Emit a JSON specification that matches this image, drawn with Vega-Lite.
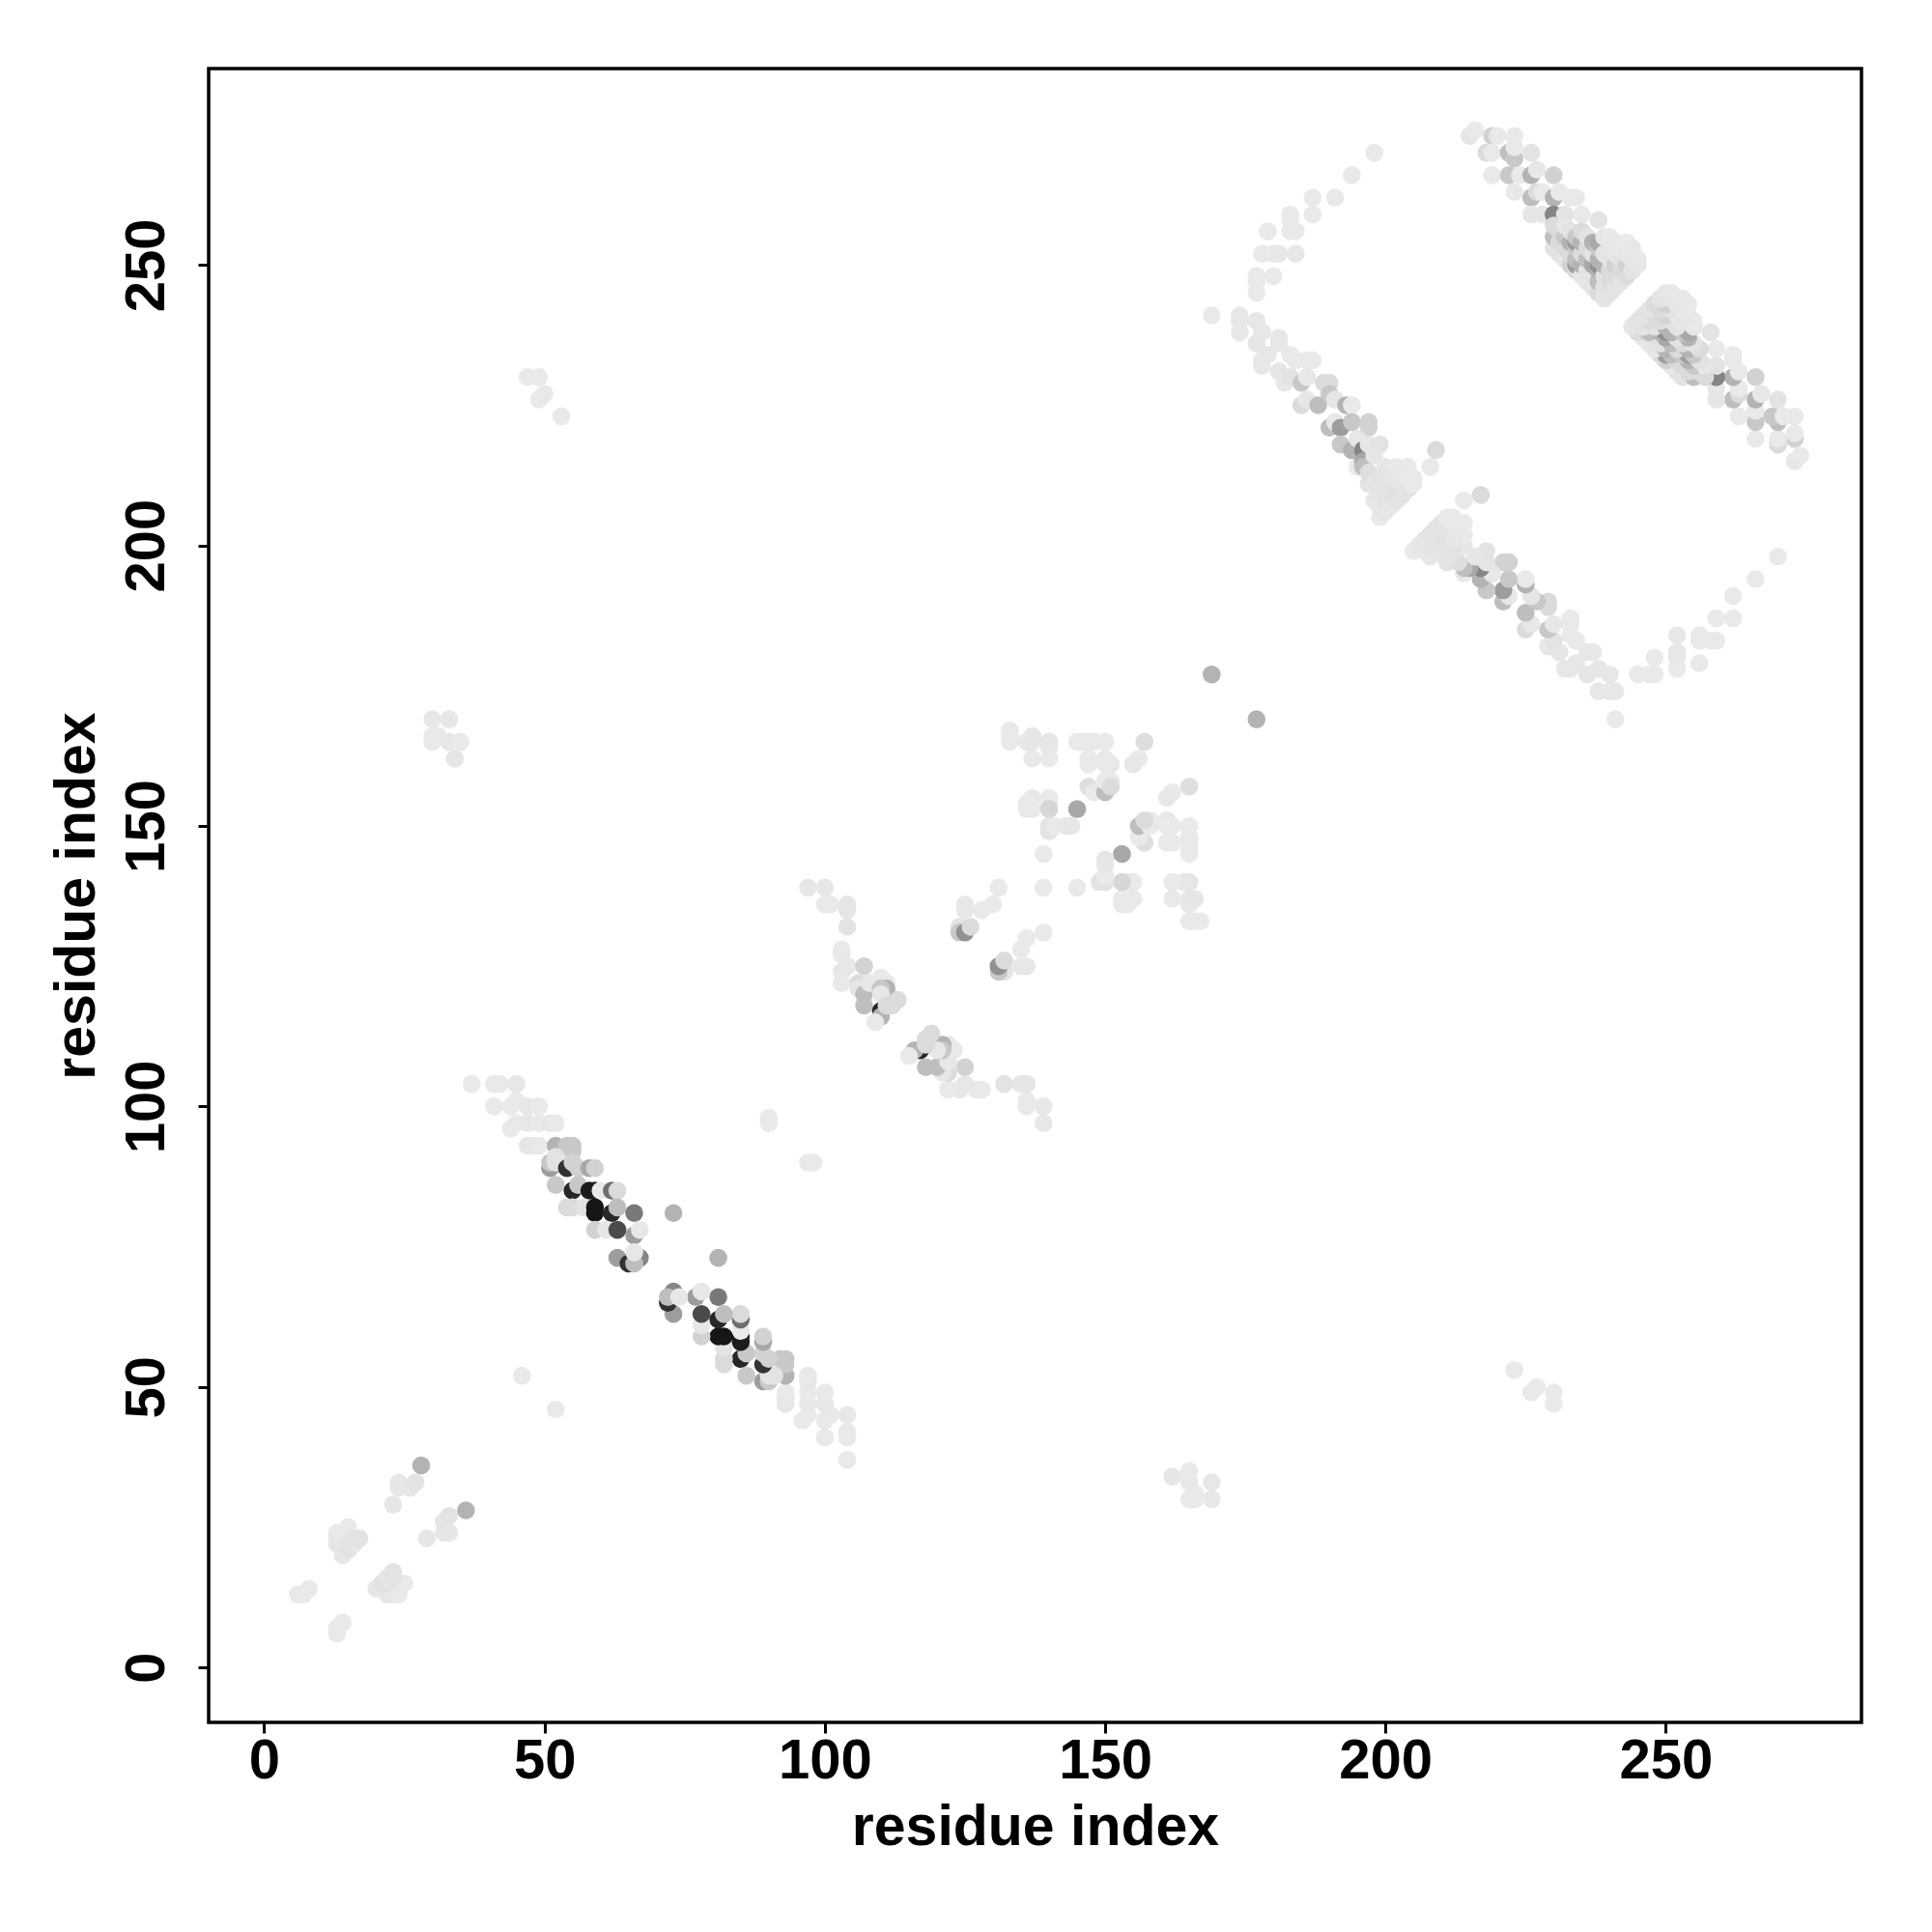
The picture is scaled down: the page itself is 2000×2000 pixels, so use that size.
{"$schema":"https://vega.github.io/schema/vega-lite/v6.json","autosize":{"type":"none"},"padding":{"left":216,"top":71,"right":73,"bottom":216},"width":1711,"height":1712,"background":"white","config":{"view":{"stroke":"black","strokeWidth":3.5},"axis":{"grid":false,"domain":false,"tickColor":"black","tickWidth":3,"tickSize":11,"labelFont":"Liberation Sans","labelFontWeight":"bold","labelFontSize":58,"labelColor":"black","titleFont":"Liberation Sans","titleFontWeight":"bold","titleFontSize":59,"titleColor":"black","labelOverlap":false,"labelFlush":false}},"data":{"values":[
{"x":6,"y":13,"v":0},{"x":7,"y":13,"v":0},{"x":8,"y":14,"v":0},{"x":13,"y":23,"v":0},{"x":13,"y":22,"v":0.03},{"x":13,"y":24,"v":0},{"x":14,"y":20,"v":0.02},{"x":14,"y":21,"v":0.03},{"x":14,"y":23,"v":0},{"x":15,"y":21,"v":0.05},{"x":15,"y":22,"v":0.05},{"x":15,"y":25,"v":0},{"x":16,"y":22,"v":0.03},{"x":16,"y":23,"v":0.05},{"x":17,"y":23,"v":0.05},{"x":28,"y":36,"v":0.3},{"x":23,"y":29,"v":0.03},{"x":24,"y":32,"v":0.02},{"x":24,"y":33,"v":0.03},{"x":26,"y":32,"v":0.03},{"x":27,"y":33,"v":0.05},
{"x":13,"y":6,"v":0},{"x":13,"y":7,"v":0},{"x":14,"y":8,"v":0},{"x":23,"y":13,"v":0},{"x":22,"y":13,"v":0.03},{"x":24,"y":13,"v":0},{"x":20,"y":14,"v":0.02},{"x":21,"y":14,"v":0.03},{"x":23,"y":14,"v":0},{"x":21,"y":15,"v":0.05},{"x":22,"y":15,"v":0.05},{"x":25,"y":15,"v":0},{"x":22,"y":16,"v":0.03},{"x":23,"y":16,"v":0.05},{"x":23,"y":17,"v":0.05},{"x":36,"y":28,"v":0.3},{"x":29,"y":23,"v":0.03},{"x":32,"y":24,"v":0.02},{"x":33,"y":24,"v":0.03},{"x":32,"y":26,"v":0.03},{"x":33,"y":27,"v":0.05},
{"x":47,"y":230,"v":0},{"x":49,"y":230,"v":0},{"x":49,"y":226,"v":0},{"x":50,"y":227,"v":0},{"x":53,"y":223,"v":0},{"x":46,"y":52,"v":0},{"x":230,"y":47,"v":0},{"x":230,"y":49,"v":0},{"x":226,"y":49,"v":0},{"x":227,"y":50,"v":0},{"x":223,"y":53,"v":0},{"x":52,"y":46,"v":0},
{"x":30,"y":169,"v":0.02},{"x":33,"y":169,"v":0.02},{"x":30,"y":165,"v":0},{"x":31,"y":166,"v":0},{"x":33,"y":165,"v":0.02},{"x":35,"y":165,"v":0},{"x":34,"y":162,"v":0.03},{"x":30,"y":166,"v":0},{"x":169,"y":30,"v":0.02},{"x":169,"y":33,"v":0.02},{"x":165,"y":30,"v":0},{"x":166,"y":31,"v":0},{"x":165,"y":33,"v":0.02},{"x":165,"y":35,"v":0},{"x":162,"y":34,"v":0.03},{"x":166,"y":30,"v":0},
{"x":37,"y":104,"v":0},{"x":41,"y":104,"v":0},{"x":42,"y":104,"v":0},{"x":45,"y":104,"v":0.02},{"x":41,"y":100,"v":0},{"x":44,"y":100,"v":0},{"x":45,"y":101,"v":0},{"x":47,"y":100,"v":0.02},{"x":49,"y":100,"v":0},{"x":44,"y":96,"v":0},{"x":45,"y":97,"v":0},{"x":47,"y":97,"v":0.02},{"x":49,"y":97,"v":0},{"x":51,"y":97,"v":0.02},{"x":52,"y":97,"v":0},{"x":47,"y":93,"v":0.03},{"x":48,"y":93,"v":0.02},{"x":49,"y":93,"v":0},{"x":52,"y":93,"v":0.3},{"x":54,"y":93,"v":0.2},{"x":55,"y":93,"v":0.2},{"x":51,"y":89,"v":0.4},{"x":51,"y":90,"v":0.2},{"x":52,"y":90,"v":0.05},{"x":52,"y":91,"v":0.05},{"x":55,"y":92,"v":0.2},{"x":54,"y":89,"v":0.85},{"x":55,"y":90,"v":0.15},{"x":56,"y":89,"v":0.15},{"x":58,"y":89,"v":0.35},{"x":59,"y":89,"v":0.15},{"x":52,"y":86,"v":0.2},{"x":55,"y":85,"v":0.9},{"x":56,"y":86,"v":0.2},{"x":58,"y":85,"v":0.95},{"x":59,"y":85,"v":0.95},{"x":60,"y":85,"v":0},{"x":62,"y":85,"v":0.6},{"x":63,"y":85,"v":0.1},{"x":54,"y":82,"v":0.1},{"x":55,"y":82,"v":0.1},{"x":57,"y":82,"v":0.05},{"x":59,"y":81,"v":0.98},{"x":59,"y":82,"v":0.98},{"x":62,"y":81,"v":0.9},{"x":63,"y":82,"v":0.25},{"x":66,"y":81,"v":0.55},{"x":59,"y":78,"v":0.15},{"x":61,"y":78,"v":0.03},{"x":63,"y":78,"v":0.75},{"x":66,"y":77,"v":0.4},{"x":67,"y":78,"v":0.02},{"x":63,"y":73,"v":0.4},{"x":65,"y":72,"v":0.85},{"x":67,"y":73,"v":0.5},{"x":66,"y":72,"v":0.25},{"x":66,"y":74,"v":0.02},{"x":73,"y":81,"v":0.3},{"x":90,"y":97,"v":0},{"x":90,"y":98,"v":0},
{"x":104,"y":37,"v":0},{"x":104,"y":41,"v":0},{"x":104,"y":42,"v":0},{"x":104,"y":45,"v":0.02},{"x":100,"y":41,"v":0},{"x":100,"y":44,"v":0},{"x":101,"y":45,"v":0},{"x":100,"y":47,"v":0.02},{"x":100,"y":49,"v":0},{"x":96,"y":44,"v":0},{"x":97,"y":45,"v":0},{"x":97,"y":47,"v":0.02},{"x":97,"y":49,"v":0},{"x":97,"y":51,"v":0.02},{"x":97,"y":52,"v":0},{"x":93,"y":47,"v":0.03},{"x":93,"y":48,"v":0.02},{"x":93,"y":49,"v":0},{"x":93,"y":52,"v":0.3},{"x":93,"y":54,"v":0.2},{"x":93,"y":55,"v":0.2},{"x":89,"y":51,"v":0.4},{"x":90,"y":51,"v":0.2},{"x":90,"y":52,"v":0.05},{"x":91,"y":52,"v":0.05},{"x":92,"y":55,"v":0.2},{"x":89,"y":54,"v":0.85},{"x":90,"y":55,"v":0.15},{"x":89,"y":56,"v":0.15},{"x":89,"y":58,"v":0.35},{"x":89,"y":59,"v":0.15},{"x":86,"y":52,"v":0.2},{"x":85,"y":55,"v":0.9},{"x":86,"y":56,"v":0.2},{"x":85,"y":58,"v":0.95},{"x":85,"y":59,"v":0.95},{"x":85,"y":60,"v":0},{"x":85,"y":62,"v":0.6},{"x":85,"y":63,"v":0.1},{"x":82,"y":54,"v":0.1},{"x":82,"y":55,"v":0.1},{"x":82,"y":57,"v":0.05},{"x":81,"y":59,"v":0.98},{"x":82,"y":59,"v":0.98},{"x":81,"y":62,"v":0.9},{"x":82,"y":63,"v":0.25},{"x":81,"y":66,"v":0.55},{"x":78,"y":59,"v":0.15},{"x":78,"y":61,"v":0.03},{"x":78,"y":63,"v":0.75},{"x":77,"y":66,"v":0.4},{"x":78,"y":67,"v":0.02},{"x":73,"y":63,"v":0.4},{"x":72,"y":65,"v":0.85},{"x":73,"y":67,"v":0.5},{"x":72,"y":66,"v":0.25},{"x":74,"y":66,"v":0.02},{"x":81,"y":73,"v":0.3},{"x":97,"y":90,"v":0},{"x":98,"y":90,"v":0},
{"x":97,"y":139,"v":0.02},{"x":100,"y":139,"v":0.02},{"x":100,"y":136,"v":0},{"x":101,"y":136,"v":0},{"x":104,"y":136,"v":0.03},{"x":104,"y":135,"v":0.03},{"x":104,"y":132,"v":0.05},{"x":103,"y":128,"v":0},{"x":103,"y":127,"v":0},{"x":103,"y":124,"v":0.02},{"x":103,"y":122,"v":0},{"x":104,"y":125,"v":0.02},{"x":107,"y":125,"v":0.15},{"x":106,"y":122,"v":0.1},{"x":106,"y":121,"v":0.03},{"x":107,"y":120,"v":0.25},{"x":107,"y":118,"v":0.25},{"x":108,"y":122,"v":0.02},{"x":110,"y":123,"v":0},{"x":111,"y":122,"v":0},{"x":111,"y":121,"v":0.3},{"x":110,"y":121,"v":0.2},{"x":110,"y":120,"v":0.02},{"x":110,"y":117,"v":0.9},{"x":110,"y":116,"v":0.3},{"x":113,"y":119,"v":0.1},{"x":112,"y":118,"v":0.1},{"x":109,"y":115,"v":0},{"x":111,"y":118,"v":0.1},
{"x":139,"y":97,"v":0.02},{"x":139,"y":100,"v":0.02},{"x":136,"y":100,"v":0},{"x":136,"y":101,"v":0},{"x":136,"y":104,"v":0.03},{"x":135,"y":104,"v":0.03},{"x":132,"y":104,"v":0.05},{"x":128,"y":103,"v":0},{"x":127,"y":103,"v":0},{"x":124,"y":103,"v":0.02},{"x":122,"y":103,"v":0},{"x":125,"y":104,"v":0.02},{"x":125,"y":107,"v":0.15},{"x":122,"y":106,"v":0.1},{"x":121,"y":106,"v":0.03},{"x":120,"y":107,"v":0.25},{"x":118,"y":107,"v":0.25},{"x":122,"y":108,"v":0.02},{"x":123,"y":110,"v":0},{"x":122,"y":111,"v":0},{"x":121,"y":111,"v":0.3},{"x":121,"y":110,"v":0.2},{"x":120,"y":110,"v":0.02},{"x":117,"y":110,"v":0.9},{"x":116,"y":110,"v":0.3},{"x":119,"y":113,"v":0.1},{"x":118,"y":112,"v":0.1},{"x":115,"y":109,"v":0},{"x":118,"y":111,"v":0.1},
{"x":124,"y":132,"v":0.05},{"x":124,"y":131,"v":0.2},{"x":125,"y":131,"v":0.45},{"x":126,"y":132,"v":0.1},{"x":125,"y":136,"v":0.02},{"x":125,"y":135,"v":0.02},{"x":128,"y":135,"v":0},{"x":130,"y":136,"v":0},{"x":131,"y":139,"v":0},{"x":132,"y":124,"v":0.05},{"x":131,"y":124,"v":0.2},{"x":131,"y":125,"v":0.45},{"x":132,"y":126,"v":0.1},{"x":136,"y":125,"v":0.02},{"x":135,"y":125,"v":0.02},{"x":135,"y":128,"v":0},{"x":136,"y":130,"v":0},{"x":139,"y":131,"v":0},
{"x":133,"y":165,"v":0},{"x":133,"y":166,"v":0},{"x":133,"y":167,"v":0},{"x":136,"y":165,"v":0},{"x":137,"y":165,"v":0.02},{"x":137,"y":166,"v":0.03},{"x":137,"y":162,"v":0},{"x":140,"y":165,"v":0.04},{"x":140,"y":164,"v":0.02},{"x":140,"y":162,"v":0},{"x":145,"y":165,"v":0},{"x":146,"y":165,"v":0},{"x":147,"y":165,"v":0},{"x":148,"y":165,"v":0},{"x":150,"y":165,"v":0},{"x":147,"y":162,"v":0},{"x":147,"y":161,"v":0},{"x":150,"y":162,"v":0},{"x":151,"y":161,"v":0.02},{"x":150,"y":161,"v":0},{"x":157,"y":165,"v":0.08},{"x":156,"y":162,"v":0},{"x":155,"y":161,"v":0.02},{"x":147,"y":157,"v":0.08},{"x":148,"y":156,"v":0},{"x":150,"y":156,"v":0.25},{"x":150,"y":158,"v":0},{"x":151,"y":158,"v":0},{"x":151,"y":157,"v":0.1},{"x":136,"y":153,"v":0},{"x":136,"y":154,"v":0},{"x":137,"y":153,"v":0},{"x":137,"y":155,"v":0},{"x":140,"y":155,"v":0},{"x":140,"y":154,"v":0},{"x":140,"y":153,"v":0.13},{"x":145,"y":153,"v":0.35},{"x":140,"y":150,"v":0.05},{"x":140,"y":149,"v":0.05},{"x":141,"y":150,"v":0},{"x":143,"y":150,"v":0.02},{"x":144,"y":150,"v":0.03},{"x":139,"y":145,"v":0},{"x":139,"y":139,"v":0},
{"x":165,"y":133,"v":0},{"x":166,"y":133,"v":0},{"x":167,"y":133,"v":0},{"x":165,"y":136,"v":0},{"x":165,"y":137,"v":0.02},{"x":166,"y":137,"v":0.03},{"x":162,"y":137,"v":0},{"x":165,"y":140,"v":0.04},{"x":164,"y":140,"v":0.02},{"x":162,"y":140,"v":0},{"x":165,"y":145,"v":0},{"x":165,"y":146,"v":0},{"x":165,"y":147,"v":0},{"x":165,"y":148,"v":0},{"x":165,"y":150,"v":0},{"x":162,"y":147,"v":0},{"x":161,"y":147,"v":0},{"x":162,"y":150,"v":0},{"x":161,"y":151,"v":0.02},{"x":161,"y":150,"v":0},{"x":165,"y":157,"v":0.08},{"x":162,"y":156,"v":0},{"x":161,"y":155,"v":0.02},{"x":157,"y":147,"v":0.08},{"x":156,"y":148,"v":0},{"x":156,"y":150,"v":0.25},{"x":158,"y":150,"v":0},{"x":158,"y":151,"v":0},{"x":157,"y":151,"v":0.1},{"x":153,"y":136,"v":0},{"x":154,"y":136,"v":0},{"x":153,"y":137,"v":0},{"x":155,"y":137,"v":0},{"x":155,"y":140,"v":0},{"x":154,"y":140,"v":0},{"x":153,"y":140,"v":0.13},{"x":153,"y":145,"v":0.35},{"x":150,"y":140,"v":0.05},{"x":149,"y":140,"v":0.05},{"x":150,"y":141,"v":0},{"x":150,"y":143,"v":0.02},{"x":150,"y":144,"v":0.03},{"x":145,"y":139,"v":0},
{"x":169,"y":177,"v":0.3},{"x":177,"y":169,"v":0.3},
{"x":169,"y":241,"v":0},{"x":198,"y":270,"v":0},{"x":194,"y":266,"v":0},{"x":191,"y":262,"v":0},{"x":187,"y":262,"v":0},{"x":187,"y":259,"v":0},{"x":183,"y":259,"v":0},{"x":183,"y":256,"v":0},{"x":179,"y":256,"v":0},{"x":184,"y":256,"v":0},{"x":184,"y":252,"v":0.02},{"x":180,"y":252,"v":0.02},{"x":181,"y":252,"v":0.02},{"x":178,"y":252,"v":0},{"x":177,"y":248,"v":0},{"x":180,"y":248,"v":0},{"x":177,"y":245,"v":0},{"x":177,"y":247,"v":0},{"x":183,"y":258,"v":0},
{"x":241,"y":169,"v":0},{"x":270,"y":198,"v":0},{"x":266,"y":194,"v":0},{"x":262,"y":191,"v":0},{"x":262,"y":187,"v":0},{"x":259,"y":187,"v":0},{"x":259,"y":183,"v":0},{"x":256,"y":183,"v":0},{"x":256,"y":179,"v":0},{"x":256,"y":184,"v":0},{"x":252,"y":184,"v":0.02},{"x":252,"y":180,"v":0.02},{"x":252,"y":181,"v":0.02},{"x":252,"y":178,"v":0},{"x":248,"y":177,"v":0},{"x":248,"y":180,"v":0},{"x":245,"y":177,"v":0},{"x":247,"y":177,"v":0},{"x":258,"y":183,"v":0},
{"x":174,"y":241,"v":0.02},{"x":174,"y":240,"v":0.02},{"x":174,"y":238,"v":0.02},{"x":177,"y":240,"v":0.02},{"x":178,"y":238,"v":0.02},{"x":177,"y":236,"v":0.03},{"x":181,"y":237,"v":0.02},{"x":181,"y":236,"v":0.02},{"x":178,"y":233,"v":0.02},{"x":178,"y":232,"v":0.02},{"x":179,"y":234,"v":0.02},{"x":183,"y":234,"v":0},{"x":184,"y":233,"v":0},{"x":186,"y":233,"v":0},{"x":187,"y":233,"v":0},{"x":181,"y":231,"v":0.03},{"x":182,"y":229,"v":0.02},{"x":183,"y":230,"v":0.05},{"x":185,"y":229,"v":0.2},{"x":186,"y":230,"v":0.02},{"x":189,"y":229,"v":0.1},{"x":190,"y":229,"v":0.1},{"x":185,"y":225,"v":0.1},{"x":186,"y":226,"v":0.02},{"x":188,"y":225,"v":0.25},{"x":190,"y":227,"v":0.2},{"x":191,"y":226,"v":0.03},{"x":193,"y":225,"v":0.3},{"x":194,"y":225,"v":0},{"x":190,"y":221,"v":0.25},{"x":191,"y":222,"v":0.02},{"x":192,"y":221,"v":0.4},{"x":194,"y":222,"v":0.2},{"x":197,"y":221,"v":0.15},{"x":197,"y":222,"v":0.15},{"x":192,"y":218,"v":0.2},{"x":194,"y":217,"v":0.3},{"x":195,"y":219,"v":0.02},{"x":196,"y":217,"v":0.5},{"x":197,"y":218,"v":0.03},{"x":199,"y":218,"v":0.05},{"x":195,"y":214,"v":0},{"x":196,"y":215,"v":0.35},{"x":196,"y":214,"v":0.25},{"x":197,"y":211,"v":0.05},{"x":197,"y":213,"v":0.08},{"x":198,"y":216,"v":0.03},{"x":200,"y":214,"v":0.03},{"x":202,"y":214,"v":0},{"x":204,"y":214,"v":0},{"x":209,"y":217,"v":0.1},{"x":208,"y":214,"v":0},
{"x":198,"y":208,"v":0.03},{"x":198,"y":211,"v":0.04},{"x":199,"y":205,"v":0},{"x":199,"y":207,"v":0.02},{"x":199,"y":209,"v":0.04},{"x":199,"y":212,"v":0.05},{"x":200,"y":206,"v":0.03},{"x":200,"y":208,"v":0.05},{"x":200,"y":211,"v":0.05},{"x":201,"y":207,"v":0.03},{"x":201,"y":209,"v":0.05},{"x":201,"y":212,"v":0.03},{"x":202,"y":208,"v":0.05},{"x":202,"y":210,"v":0.06},{"x":202,"y":212,"v":0.03},{"x":203,"y":209,"v":0.05},{"x":203,"y":211,"v":0.04},{"x":203,"y":213,"v":0.01},{"x":204,"y":210,"v":0.05},{"x":204,"y":212,"v":0},{"x":205,"y":211,"v":0},{"x":205,"y":212,"v":0},
{"x":241,"y":174,"v":0.02},{"x":240,"y":174,"v":0.02},{"x":238,"y":174,"v":0.02},{"x":240,"y":177,"v":0.02},{"x":238,"y":178,"v":0.02},{"x":236,"y":177,"v":0.03},{"x":237,"y":181,"v":0.02},{"x":236,"y":181,"v":0.02},{"x":233,"y":178,"v":0.02},{"x":232,"y":178,"v":0.02},{"x":234,"y":179,"v":0.02},{"x":234,"y":183,"v":0},{"x":233,"y":184,"v":0},{"x":233,"y":186,"v":0},{"x":233,"y":187,"v":0},{"x":231,"y":181,"v":0.03},{"x":229,"y":182,"v":0.02},{"x":230,"y":183,"v":0.05},{"x":229,"y":185,"v":0.2},{"x":230,"y":186,"v":0.02},{"x":229,"y":189,"v":0.1},{"x":229,"y":190,"v":0.1},{"x":225,"y":185,"v":0.1},{"x":226,"y":186,"v":0.02},{"x":225,"y":188,"v":0.25},{"x":227,"y":190,"v":0.2},{"x":226,"y":191,"v":0.03},{"x":225,"y":193,"v":0.3},{"x":225,"y":194,"v":0},{"x":221,"y":190,"v":0.25},{"x":222,"y":191,"v":0.02},{"x":221,"y":192,"v":0.4},{"x":222,"y":194,"v":0.2},{"x":221,"y":197,"v":0.15},{"x":222,"y":197,"v":0.15},{"x":218,"y":192,"v":0.2},{"x":217,"y":194,"v":0.3},{"x":219,"y":195,"v":0.02},{"x":217,"y":196,"v":0.5},{"x":218,"y":197,"v":0.03},{"x":218,"y":199,"v":0.05},{"x":214,"y":195,"v":0},{"x":215,"y":196,"v":0.35},{"x":214,"y":196,"v":0.25},{"x":211,"y":197,"v":0.05},{"x":213,"y":197,"v":0.08},{"x":216,"y":198,"v":0.03},{"x":214,"y":200,"v":0.03},{"x":214,"y":202,"v":0},{"x":214,"y":204,"v":0},{"x":217,"y":209,"v":0.1},{"x":214,"y":208,"v":0},
{"x":208,"y":198,"v":0.03},{"x":211,"y":198,"v":0.04},{"x":205,"y":199,"v":0},{"x":207,"y":199,"v":0.02},{"x":209,"y":199,"v":0.04},{"x":212,"y":199,"v":0.05},{"x":206,"y":200,"v":0.03},{"x":208,"y":200,"v":0.05},{"x":211,"y":200,"v":0.05},{"x":207,"y":201,"v":0.03},{"x":209,"y":201,"v":0.05},{"x":212,"y":201,"v":0.03},{"x":208,"y":202,"v":0.05},{"x":210,"y":202,"v":0.06},{"x":212,"y":202,"v":0.03},{"x":209,"y":203,"v":0.05},{"x":211,"y":203,"v":0.04},{"x":213,"y":203,"v":0.01},{"x":210,"y":204,"v":0.05},{"x":212,"y":204,"v":0},{"x":211,"y":205,"v":0},{"x":212,"y":205,"v":0},
{"x":215,"y":273,"v":0.03},{"x":216,"y":274,"v":0},{"x":219,"y":273,"v":0.15},{"x":220,"y":273,"v":0},{"x":223,"y":273,"v":0},{"x":218,"y":270,"v":0.1},{"x":219,"y":270,"v":0},{"x":222,"y":270,"v":0.25},{"x":223,"y":269,"v":0.2},{"x":223,"y":271,"v":0},{"x":226,"y":270,"v":0.05},{"x":219,"y":266,"v":0},{"x":222,"y":266,"v":0.2},{"x":224,"y":266,"v":0},{"x":226,"y":266,"v":0.3},{"x":227,"y":267,"v":0.02},{"x":230,"y":266,"v":0.15},{"x":223,"y":263,"v":0},{"x":226,"y":262,"v":0.25},{"x":227,"y":263,"v":0.1},{"x":228,"y":263,"v":0},{"x":230,"y":262,"v":0.3},{"x":231,"y":263,"v":0},{"x":233,"y":262,"v":0},{"x":234,"y":262,"v":0},{"x":226,"y":259,"v":0.03},{"x":228,"y":259,"v":0.03},{"x":230,"y":259,"v":0.5},{"x":232,"y":259,"v":0.05},{"x":235,"y":259,"v":0},{"x":238,"y":258,"v":0.05},
{"x":230,"y":253,"v":0.05},{"x":230,"y":255,"v":0.25},{"x":230,"y":257,"v":0.1},{"x":231,"y":252,"v":0.05},{"x":231,"y":254,"v":0.1},{"x":231,"y":256,"v":0.1},{"x":232,"y":251,"v":0.03},{"x":232,"y":253,"v":0.1},{"x":232,"y":255,"v":0.2},{"x":232,"y":257,"v":0.03},{"x":233,"y":250,"v":0.15},{"x":233,"y":252,"v":0.1},{"x":233,"y":254,"v":0.3},{"x":233,"y":256,"v":0.05},{"x":234,"y":249,"v":0.1},{"x":234,"y":250,"v":0.4},{"x":234,"y":251,"v":0.25},{"x":234,"y":253,"v":0.2},{"x":234,"y":254,"v":0.4},{"x":234,"y":255,"v":0.2},{"x":235,"y":248,"v":0.03},{"x":235,"y":250,"v":0.3},{"x":235,"y":252,"v":0.1},{"x":235,"y":254,"v":0.3},{"x":235,"y":256,"v":0.1},{"x":236,"y":247,"v":0.03},{"x":236,"y":249,"v":0.05},{"x":236,"y":251,"v":0.25},{"x":236,"y":253,"v":0.1},{"x":236,"y":255,"v":0.05},{"x":237,"y":246,"v":0.03},{"x":237,"y":248,"v":0.05},{"x":237,"y":250,"v":0.35},{"x":237,"y":252,"v":0.05},{"x":237,"y":254,"v":0.3},{"x":238,"y":245,"v":0.1},{"x":238,"y":247,"v":0.25},{"x":238,"y":249,"v":0.3},{"x":238,"y":250,"v":0.45},{"x":238,"y":251,"v":0.3},{"x":238,"y":253,"v":0.2},{"x":238,"y":254,"v":0.35},{"x":239,"y":244,"v":0.03},{"x":239,"y":246,"v":0.05},{"x":239,"y":248,"v":0.05},{"x":239,"y":250,"v":0.3},{"x":239,"y":252,"v":0.05},{"x":239,"y":255,"v":0.03},{"x":240,"y":245,"v":0.05},{"x":240,"y":247,"v":0.1},{"x":240,"y":249,"v":0.1},{"x":240,"y":251,"v":0.05},{"x":240,"y":253,"v":0.03},{"x":240,"y":255,"v":0},{"x":241,"y":246,"v":0.05},{"x":241,"y":248,"v":0.1},{"x":241,"y":250,"v":0.15},{"x":241,"y":252,"v":0.03},{"x":241,"y":254,"v":0.02},{"x":242,"y":247,"v":0.05},{"x":242,"y":249,"v":0.1},{"x":242,"y":251,"v":0.05},{"x":242,"y":253,"v":0},{"x":243,"y":248,"v":0.1},{"x":243,"y":250,"v":0.15},{"x":243,"y":252,"v":0.03},{"x":243,"y":254,"v":0},{"x":244,"y":249,"v":0.05},{"x":244,"y":251,"v":0.03},{"x":244,"y":253,"v":0.02},{"x":245,"y":250,"v":0.03},{"x":245,"y":251,"v":0.02},
{"x":273,"y":215,"v":0.03},{"x":274,"y":216,"v":0},{"x":273,"y":219,"v":0.15},{"x":273,"y":220,"v":0},{"x":273,"y":223,"v":0},{"x":270,"y":218,"v":0.1},{"x":270,"y":219,"v":0},{"x":270,"y":222,"v":0.25},{"x":269,"y":223,"v":0.2},{"x":271,"y":223,"v":0},{"x":270,"y":226,"v":0.05},{"x":266,"y":219,"v":0},{"x":266,"y":222,"v":0.2},{"x":266,"y":224,"v":0},{"x":266,"y":226,"v":0.3},{"x":267,"y":227,"v":0.02},{"x":266,"y":230,"v":0.15},{"x":263,"y":223,"v":0},{"x":262,"y":226,"v":0.25},{"x":263,"y":227,"v":0.1},{"x":263,"y":228,"v":0},{"x":262,"y":230,"v":0.3},{"x":263,"y":231,"v":0},{"x":262,"y":233,"v":0},{"x":262,"y":234,"v":0},{"x":259,"y":226,"v":0.03},{"x":259,"y":228,"v":0.03},{"x":259,"y":230,"v":0.5},{"x":259,"y":232,"v":0.05},{"x":259,"y":235,"v":0},{"x":258,"y":238,"v":0.05},
{"x":253,"y":230,"v":0.05},{"x":255,"y":230,"v":0.25},{"x":257,"y":230,"v":0.1},{"x":252,"y":231,"v":0.05},{"x":254,"y":231,"v":0.1},{"x":256,"y":231,"v":0.1},{"x":251,"y":232,"v":0.03},{"x":253,"y":232,"v":0.1},{"x":255,"y":232,"v":0.2},{"x":257,"y":232,"v":0.03},{"x":250,"y":233,"v":0.15},{"x":252,"y":233,"v":0.1},{"x":254,"y":233,"v":0.3},{"x":256,"y":233,"v":0.05},{"x":249,"y":234,"v":0.1},{"x":250,"y":234,"v":0.4},{"x":251,"y":234,"v":0.25},{"x":253,"y":234,"v":0.2},{"x":254,"y":234,"v":0.4},{"x":255,"y":234,"v":0.2},{"x":248,"y":235,"v":0.03},{"x":250,"y":235,"v":0.3},{"x":252,"y":235,"v":0.1},{"x":254,"y":235,"v":0.3},{"x":256,"y":235,"v":0.1},{"x":247,"y":236,"v":0.03},{"x":249,"y":236,"v":0.05},{"x":251,"y":236,"v":0.25},{"x":253,"y":236,"v":0.1},{"x":255,"y":236,"v":0.05},{"x":246,"y":237,"v":0.03},{"x":248,"y":237,"v":0.05},{"x":250,"y":237,"v":0.35},{"x":252,"y":237,"v":0.05},{"x":254,"y":237,"v":0.3},{"x":245,"y":238,"v":0.1},{"x":247,"y":238,"v":0.25},{"x":249,"y":238,"v":0.3},{"x":250,"y":238,"v":0.45},{"x":251,"y":238,"v":0.3},{"x":253,"y":238,"v":0.2},{"x":254,"y":238,"v":0.35},{"x":244,"y":239,"v":0.03},{"x":246,"y":239,"v":0.05},{"x":248,"y":239,"v":0.05},{"x":250,"y":239,"v":0.3},{"x":252,"y":239,"v":0.05},{"x":255,"y":239,"v":0.03},{"x":245,"y":240,"v":0.05},{"x":247,"y":240,"v":0.1},{"x":249,"y":240,"v":0.1},{"x":251,"y":240,"v":0.05},{"x":253,"y":240,"v":0.03},{"x":255,"y":240,"v":0},{"x":246,"y":241,"v":0.05},{"x":248,"y":241,"v":0.1},{"x":250,"y":241,"v":0.15},{"x":252,"y":241,"v":0.03},{"x":254,"y":241,"v":0.02},{"x":247,"y":242,"v":0.05},{"x":249,"y":242,"v":0.1},{"x":251,"y":242,"v":0.05},{"x":253,"y":242,"v":0},{"x":248,"y":243,"v":0.1},{"x":250,"y":243,"v":0.15},{"x":252,"y":243,"v":0.03},{"x":254,"y":243,"v":0},{"x":249,"y":244,"v":0.05},{"x":251,"y":244,"v":0.03},{"x":253,"y":244,"v":0.02},{"x":250,"y":245,"v":0.03},{"x":251,"y":245,"v":0.02}
]},"mark":{"type":"point","filled":true,"opacity":1,"size":345,"clip":false},"encoding":{"x":{"field":"x","type":"quantitative","scale":{"domain":[-9.9,284.9],"nice":false,"zero":false},"axis":{"title":"residue index","values":[0,50,100,150,200,250],"labelPadding":0,"titlePadding":10}},"y":{"field":"y","type":"quantitative","scale":{"domain":[-9.8,285],"nice":false,"zero":false},"axis":{"title":"residue index","values":[0,50,100,150,200,250],"labelAngle":-90,"labelAlign":"center","labelBaseline":"bottom","labelPadding":24,"titlePadding":14}},"color":{"field":"v","type":"quantitative","legend":null,"scale":{"type":"pow","exponent":1.25,"domain":[0,1],"range":["#e9e9e9","#111111"]}},"order":[{"field":"x","type":"quantitative"},{"field":"y","type":"quantitative"}]}}
